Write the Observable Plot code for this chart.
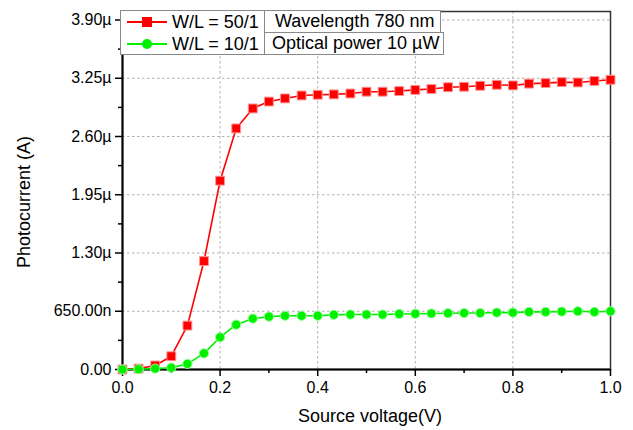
<!DOCTYPE html>
<html>
<head>
<meta charset="utf-8">
<script src="https://cdn.jsdelivr.net/npm/d3@7"></script>
<script src="https://cdn.jsdelivr.net/npm/@observablehq/plot@0.6"></script>
<style>
  html, body { margin: 0; padding: 0; background: #fff; }
  #wrap { position: relative; width: 633px; height: 430px; font-family: "Liberation Sans", Arial, sans-serif; }
  .lg { position: absolute; box-sizing: border-box; border: 1px solid #888; background: #fff; font-size: 18px; color: #000; }
  .row { position: absolute; left: 0; height: 22px; line-height: 22px; white-space: nowrap; }
  .sample { position: absolute; left: 6px; top: 10px; width: 40px; height: 2px; }
  .mk { position: absolute; }
  .axlab { position: absolute; font-size: 18px; color: #000; white-space: nowrap; line-height: 20px; }
</style>
</head>
<body>
<div id="wrap"></div>
<script>
// Source voltage (V)
const voltage = [0, 0.033, 0.067, 0.1, 0.133, 0.167, 0.2, 0.233, 0.267, 0.3,
  0.333, 0.367, 0.4, 0.433, 0.467, 0.5, 0.533, 0.567, 0.6, 0.633,
  0.667, 0.7, 0.733, 0.767, 0.8, 0.833, 0.867, 0.9, 0.933, 0.967, 1.0];
// Photocurrent in µA
const wl50 = [0, 0.01, 0.045, 0.148, 0.49, 1.21, 2.107, 2.69, 2.913, 2.99,
  3.025, 3.058, 3.066, 3.07, 3.08, 3.10, 3.10, 3.107, 3.12, 3.13,
  3.15, 3.155, 3.166, 3.177, 3.17, 3.19, 3.196, 3.207, 3.203, 3.22, 3.233];
const wl10 = [0, 0.003, 0.01, 0.02, 0.063, 0.18, 0.36, 0.50, 0.568, 0.59,
  0.60, 0.60, 0.60, 0.61, 0.613, 0.613, 0.613, 0.62, 0.622, 0.625,
  0.628, 0.63, 0.63, 0.635, 0.635, 0.643, 0.643, 0.646, 0.65, 0.643, 0.65];

const seriesNames = ["W/L = 50/1", "W/L = 10/1"];
const seriesColors = ["#ff0000", "#00f000"];
const noteLines = ["Wavelength 780 nm", "Optical power 10 \u00b5W"];
const xLabel = "Source voltage(V)";
const yLabel = "Photocurrent (A)";

const yTicks = [0, 0.65, 1.30, 1.95, 2.60, 3.25, 3.90];
const yTickLabels = ["0.00", "650.00n", "1.30\u00b5", "1.95\u00b5", "2.60\u00b5", "3.25\u00b5", "3.90\u00b5"];
const yMinor = [0.325, 0.975, 1.625, 2.275, 2.925, 3.575];
const xTicks = [0, 0.2, 0.4, 0.6, 0.8, 1.0];
const xTickLabels = ["0.0", "0.2", "0.4", "0.6", "0.8", "1.0"];
const xMinor = [0.1, 0.3, 0.5, 0.7, 0.9];

const d50 = voltage.map((v, i) => ({v, c: wl50[i]}));
const d10 = voltage.map((v, i) => ({v, c: wl10[i]}));

const font = "Liberation Sans, Arial, sans-serif";
const chart = Plot.plot({
  width: 633, height: 430,
  marginLeft: 122, marginRight: 23, marginTop: 11, marginBottom: 61,
  style: {fontFamily: font, fontSize: "16px", color: "#000", background: "#fff"},
  x: {domain: [0, 1]},
  y: {domain: [0, 3.995]},
  marks: [
    Plot.gridX(xTicks.slice(1, -1), {stroke: "#b0b0b0", strokeOpacity: 1, strokeDasharray: "2.5,2.5"}),
    Plot.gridY(yTicks.slice(1), {stroke: "#b0b0b0", strokeOpacity: 1, strokeDasharray: "2.5,2.5"}),
    Plot.frame({stroke: "#333", strokeWidth: 1.5}),
    Plot.axisY({ticks: yTicks, tickFormat: (d, i) => yTickLabels[i], tickSize: 7, tickPadding: 4, strokeWidth: 1.5,
      fontSize: 16, label: null}),
    Plot.axisY({ticks: yMinor, tickSize: 4, text: null, label: null, strokeWidth: 1.5}),
    Plot.axisX({ticks: xTicks, tickFormat: (d, i) => xTickLabels[i], tickSize: 7, tickPadding: 5, strokeWidth: 1.5,
      fontSize: 16, label: null}),
    Plot.axisX({ticks: xMinor, tickSize: 4, text: null, label: null, strokeWidth: 1.5}),
    Plot.ruleX([0], {stroke: "#000", strokeWidth: 2}),
    Plot.ruleY([0], {stroke: "#000", strokeWidth: 2}),
    Plot.line(d50, {x: "v", y: "c", stroke: seriesColors[0], strokeWidth: 1.6}),
    Plot.dot(d50, {x: "v", y: "c", symbol: "square", r: 5, fill: seriesColors[0], stroke: "#ff9090", strokeWidth: 1}),
    Plot.line(d10, {x: "v", y: "c", stroke: seriesColors[1], strokeWidth: 1.6}),
    Plot.dot(d10, {x: "v", y: "c", symbol: "circle", r: 4.6, fill: seriesColors[1], stroke: "#90ff90", strokeWidth: 1})
  ]
});
const wrap = document.getElementById("wrap");
wrap.appendChild(chart);

// Axis labels
const xl = document.createElement("div");
xl.className = "axlab";
xl.textContent = xLabel;
Object.assign(xl.style, {left: "370px", top: "416px", transform: "translate(-50%, -50%)"});
wrap.appendChild(xl);
const yl = document.createElement("div");
yl.className = "axlab";
yl.textContent = yLabel;
Object.assign(yl.style, {left: "24px", top: "202px", transform: "translate(-50%, -50%) rotate(-90deg)"});
wrap.appendChild(yl);

// Legend overlay
const lg = document.createElement("div");
lg.className = "lg";
Object.assign(lg.style, {left: "120px", top: "10px", width: "145px", height: "45px"});
seriesNames.forEach((name, i) => {
  const row = document.createElement("div");
  row.className = "row";
  row.style.top = (i * 22) + "px";
  row.style.width = "145px";
  const s = document.createElement("div");
  s.className = "sample";
  s.style.background = seriesColors[i];
  row.appendChild(s);
  const m = document.createElement("div");
  m.className = "mk";
  m.style.background = seriesColors[i];
  Object.assign(m.style, {left: "21px", top: "6px", width: "10px", height: "10px"});
  if (i === 1) m.style.borderRadius = "50%";
  row.appendChild(m);
  const t = document.createElement("span");
  t.textContent = name;
  t.style.position = "absolute";
  t.style.left = "51px";
  row.appendChild(t);
  lg.appendChild(row);
});
wrap.appendChild(lg);
noteLines.forEach((txt, i) => {
  const b = document.createElement("div");
  b.className = "lg";
  Object.assign(b.style, {left: "264px", top: (10 + i * 22) + "px", width: (i === 0 ? 177 : 180) + "px", height: "23px",
    lineHeight: "21px", paddingLeft: (i === 0 ? "10px" : "7px"), whiteSpace: "nowrap"});
  b.textContent = txt;
  wrap.appendChild(b);
});
</script>
</body>
</html>
